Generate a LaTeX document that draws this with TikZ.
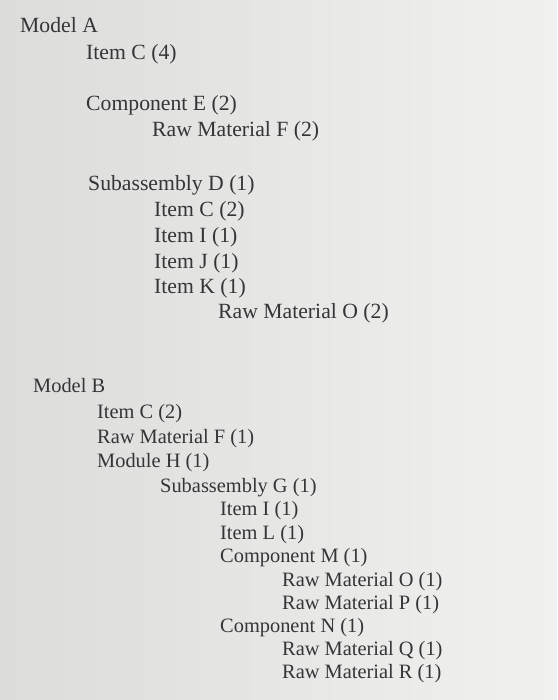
\documentclass[tikz,border=0pt]{standalone}
\usepackage{fontspec}
\setmainfont{Liberation Serif}
\definecolor{ink}{HTML}{353537}
\definecolor{paperL}{HTML}{DCDDDB}
\definecolor{paperR}{HTML}{F1F1F0}
\begin{document}
\begin{tikzpicture}[x=1pt,y=-1pt,
  lineA/.style={anchor=base west,inner sep=0pt,text=ink,font=\fontsize{21.7}{24}\selectfont},
  lineB/.style={anchor=base west,inner sep=0pt,text=ink,font=\fontsize{20.4}{24}\selectfont}]
\useasboundingbox (0,0) rectangle (557,700);
\shade[left color=paperL,right color=paperR] (0,0) rectangle (557,700);
% Model A
\node[lineA] (ma) at (20,33) {Model A};
\node[lineA] (a1) at (86,60) {Item C (4)};
\node[lineA] (a2) at (86,111) {Component E (2)};
\node[lineA] (a3) at (152,137) {Raw Material F (2)};
\node[lineA] (a4) at (88,191) {Subassembly D (1)};
\node[lineA] (a5) at (154,217) {Item C (2)};
\node[lineA] (a6) at (154,243) {Item I (1)};
\node[lineA] (a7) at (154,268) {Item J (1)};
\node[lineA] (a8) at (154,293) {Item K (1)};
\node[lineA] (a9) at (218,318) {Raw Material O (2)};
% Model B
\node[lineB] (mb) at (33,392) {Model B};
\node[lineB] (b1) at (97,418) {Item C (2)};
\node[lineB] (b2) at (97,443) {Raw Material F (1)};
\node[lineB] (b3) at (97,467) {Module H (1)};
\node[lineB] (b4) at (160,492) {Subassembly G (1)};
\node[lineB] (b5) at (220,515) {Item I (1)};
\node[lineB] (b6) at (220,539) {Item L (1)};
\node[lineB] (b7) at (220,562) {Component M (1)};
\node[lineB] (b8) at (282,586) {Raw Material O (1)};
\node[lineB] (b9) at (282,609) {Raw Material P (1)};
\node[lineB] (b10) at (220,632) {Component N (1)};
\node[lineB] (b11) at (282,655) {Raw Material Q (1)};
\node[lineB] (b12) at (282,678) {Raw Material R (1)};
\end{tikzpicture}
\end{document}
